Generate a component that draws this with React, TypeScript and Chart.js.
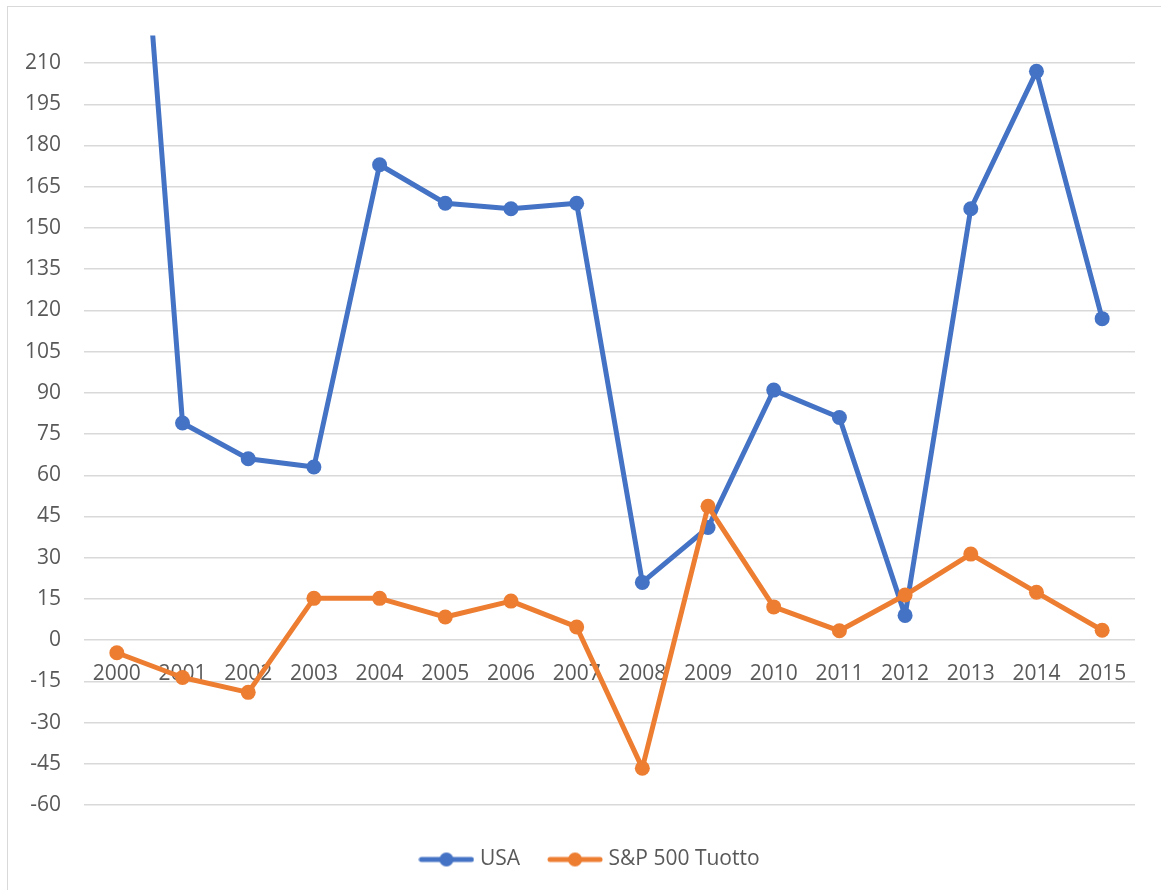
import React, { useEffect, useRef } from "react";
import { Chart, registerables } from "chart.js";

Chart.register(...registerables);

const years = ["2000", "2001", "2002", "2003", "2004", "2005", "2006", "2007", "2008", "2009", "2010", "2011", "2012", "2013", "2014", "2015"];
const usaValues = [390, 79, 66, 63, 173, 159, 157, 159, 21, 41, 91, 81, 9, 157, 207, 117];
const spValues = [-4.6, -13.6, -19, 15.2, 15.2, 8.4, 14.2, 4.8, -46.6, 48.7, 12.1, 3.4, 16.4, 31.3, 17.4, 3.6];
const seriesNames = ["USA", "S&P 500 Tuotto"];
const seriesColors = ["#4472C4", "#ED7D31"];
const yMin = -60;
const yMax = 220;
const yStep = 15;

function legendImage(color: string): HTMLCanvasElement {
  const c = document.createElement("canvas");
  c.width = 56;
  c.height = 18;
  const ctx = c.getContext("2d")!;
  ctx.strokeStyle = color;
  ctx.lineWidth = 5;
  ctx.lineCap = "round";
  ctx.beginPath();
  ctx.moveTo(3, 9);
  ctx.lineTo(53, 9);
  ctx.stroke();
  ctx.fillStyle = color;
  ctx.beginPath();
  ctx.arc(28, 9, 7, 0, Math.PI * 2);
  ctx.fill();
  return c;
}

const legendShift = {
  id: "legendShift",
  afterLayout(chart: any) {
    if (chart.legend) {
      chart.legend.left += 15;
      chart.legend.right += 15;
    }
  },
};

export default function App() {
  const ref = useRef<HTMLCanvasElement | null>(null);
  useEffect(() => {
    if (!ref.current) return;
    const images = seriesColors.map(legendImage);
    const textColor = "#595959";
    const mk = (i: number, data: number[], order: number) => ({
      label: seriesNames[i],
      data,
      borderColor: seriesColors[i],
      backgroundColor: seriesColors[i],
      borderWidth: 5,
      pointRadius: 7.5,
      pointBorderWidth: 0,
      pointBackgroundColor: seriesColors[i],
      tension: 0,
      borderJoinStyle: "round",
      order,
      clip: 0,
    });
    const chart = new Chart(ref.current, {
      type: "line",
      data: {
        labels: years,
        datasets: [mk(0, usaValues, 1), mk(1, spValues, 0)],
      },
      plugins: [legendShift],
      options: {
        responsive: false,
        animation: false,
        layout: { padding: { top: 35, right: 26, bottom: 10, left: 18 } },
        scales: {
          y: {
            min: yMin,
            max: yMax,
            ticks: {
              stepSize: yStep,
              includeBounds: false,
              color: textColor,
              font: { family: "'Open Sans'", size: 21 },
              padding: 23,
            },
            afterBuildTicks: (axis: any) => {
              axis.ticks = axis.ticks.filter((t: any) => t.value % yStep === 0);
            },
            afterFit: (axis: any) => {
              axis.width = 66;
            },
            grid: { color: "#d9d9d9", lineWidth: 1.5, drawTicks: false },
            border: { display: false },
          },
          x: {
            position: { y: 0 } as any,
            offset: true,
            grid: { display: false, drawTicks: false },
            border: { display: false },
            ticks: {
              color: textColor,
              font: { family: "'Open Sans'", size: 21 },
              padding: 21,
              maxRotation: 0,
              autoSkip: false,
            },
          },
        },
        plugins: {
          tooltip: { enabled: false },
          legend: {
            position: "bottom",
            title: { display: true, text: " ", font: { size: 10 } },
            labels: {
              usePointStyle: true,
              pointStyleWidth: 46,
              padding: 32,
              color: textColor,
              font: { family: "'Open Sans'", size: 21 },
              generateLabels: (ch: any) => {
                const items = Chart.defaults.plugins.legend.labels.generateLabels(ch);
                items.sort((a: any, b: any) => a.datasetIndex - b.datasetIndex);
                items.forEach((it: any) => {
                  it.pointStyle = images[it.datasetIndex];
                });
                return items;
              },
            },
          },
        },
      } as any,
    });
    return () => chart.destroy();
  }, []);

  return (
    <div style={{ position: "fixed", left: 0, top: 0, width: 1161, height: 890, overflow: "hidden", background: "#fff" }}>
      <div
        style={{
          position: "absolute",
          left: 7,
          top: 6,
          width: 1200,
          height: 1000,
          border: "1px solid #d9d9d9",
          boxSizing: "border-box",
        }}
      />
      <canvas ref={ref} width={1161} height={890} style={{ position: "absolute", left: 0, top: 0 }} />
    </div>
  );
}
